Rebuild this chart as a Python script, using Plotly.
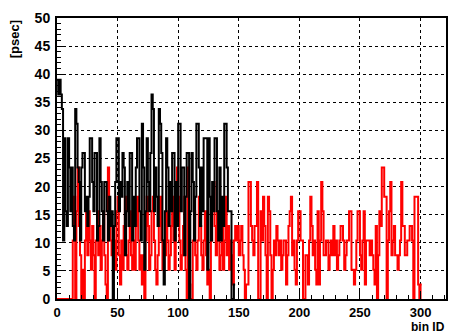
import plotly.graph_objects as go

# bin contents [psec], one value per bin (bin width = 1 bin ID, starting at 0)
black_values = [
    39, 36.4, 39, 36.4, 33.8, 10.4, 28.6, 15.6, 13, 28.6,
    23.4, 15.6, 23.4, 13, 10.4, 33.8, 31.2, 23.4, 20.8, 10.4,
    23.4, 26, 26, 15.6, 18.2, 13, 18.2, 28.6, 28.6, 20.8,
    15.6, 26, 26, 10.4, 13, 28.6, 20.8, 15.6, 10.4, 20.8,
    20.8, 15.6, 10.4, 18.2, 13, 15.6, 0, 13, 20.8, 28.6,
    28.6, 15.6, 20.8, 18.2, 26, 23.4, 7.8, 15.6, 20.8, 13,
    26, 26, 10.4, 18.2, 13, 23.4, 28.6, 28.6, 15.6, 10.4,
    31.2, 23.4, 5.2, 15.6, 28.6, 20.8, 15.6, 26, 36.4, 33.8,
    15.6, 23.4, 18.2, 13, 33.8, 31.2, 26, 10.4, 2.6, 15.6,
    28.6, 23.4, 13, 20.8, 15.6, 26, 26, 10.4, 20.8, 13,
    31.2, 31.2, 15.6, 23.4, 23.4, 7.8, 18.2, 26, 26, 0,
    15.6, 26, 20.8, 10.4, 18.2, 31.2, 31.2, 23.4, 13, 23.4,
    15.6, 28.6, 28.6, 28.6, 5.2, 28.6, 18.2, 10.4, 20.8, 15.6,
    28.6, 28.6, 15.6, 10.4, 23.4, 10.4, 18.2, 13, 31.2, 31.2,
    23.4, 15.6, 15.6, 15.6, 0, 0, 2.6,
]

red_values = [
    0, 0, 0, 0, 0, 0, 0, 0, 0, 0, 0, 0, 0,
    10.4, 18.2, 0, 15.6, 23.4, 13, 7.8, 0, 5.2, 0,
    10.4, 15.6, 7.8, 15.6, 10.4, 5.2, 13, 7.8, 0, 10.4,
    15.6, 7.8, 13, 5.2, 10.4, 15.6, 7.8, 2.6, 0, 23.4,
    15.6, 10.4, 7.8, 13, 10.4, 5.2, 15.6, 18.2, 7.8, 2.6,
    10.4, 5.2, 13, 18.2, 7.8, 5.2, 10.4, 15.6, 7.8, 5.2,
    10.4, 5.2, 13, 18.2, 10.4, 5.2, 7.8, 2.6, 7.8, 0,
    10.4, 18.2, 13, 5.2, 7.8, 15.6, 18.2, 10.4, 5.2, 2.6,
    7.8, 13, 18.2, 10.4, 5.2, 10.4, 7.8, 15.6, 10.4, 5.2,
    7.8, 13, 18.2, 10.4, 5.2, 15.6, 23.4, 18.2, 10.4, 5.2,
    7.8, 13, 18.2, 5.2, 0, 23.4, 2.6, 0, 0, 10.4,
    15.6, 7.8, 5.2, 10.4, 18.2, 13, 7.8, 5.2, 10.4, 15.6,
    7.8, 2.6, 5.2, 0, 10.4, 18.2, 20.8, 13, 7.8, 15.6,
    10.4, 5.2, 7.8, 13, 5.2, 10.4, 18.2, 7.8, 13, 5.2,
    10.4, 7.8, 2.6, 10.4,
    13, 10.4, 13, 7.8, 10.4, 13, 7.8, 5.2, 0, 2.6,
    2.6, 20.8, 20.8, 13, 10.4, 7.8, 13, 13, 20.8, 0,
    0, 15.6, 10.4, 18.2, 13, 7.8, 0, 18.2, 15.6, 7.8,
    0, 5.2, 10.4, 7.8, 13, 10.4, 7.8, 10.4, 5.2, 7.8,
    10.4, 10.4, 2.6, 7.8, 13, 15.6, 18.2, 7.8, 10.4, 5.2,
    2.6, 10.4, 15.6, 15.6, 10.4, 10.4, 0, 0, 7.8, 7.8,
    2.6, 10.4, 18.2, 13, 7.8, 10.4, 5.2, 2.6, 15.6, 2.6,
    10.4, 20.8, 15.6, 7.8, 7.8, 10.4, 10.4, 5.2, 7.8, 10.4,
    7.8, 13, 7.8, 10.4, 5.2, 7.8, 10.4, 13, 13, 10.4,
    5.2, 7.8, 10.4, 10.4, 15.6, 15.6, 5.2, 5.2, 2.6, 5.2,
    10.4, 15.6, 15.6, 7.8, 5.2, 10.4, 15.6, 2.6, 10.4, 10.4,
    10.4, 7.8, 10.4, 7.8, 5.2, 2.6, 13, 0, 7.8, 15.6,
    13, 23.4, 23.4, 18.2, 18.2, 0, 10.4, 15.6, 20.8, 7.8,
    10.4, 13, 7.8, 7.8, 5.2, 7.8, 10.4, 20.8, 13, 13,
    7.8, 7.8, 10.4, 10.4, 13, 13, 10.4, 0, 18.2, 18.2,
    18.2, 2.6, 0, 2.6,
]

x_tick_vals = [0, 50, 100, 150, 200, 250, 300]
y_tick_vals = [0, 5, 10, 15, 20, 25, 30, 35, 40, 45, 50]
x_title = "bin ID"
y_title = "[psec]"


def steps(vals):
    xs = list(range(len(vals) + 1))
    ys = list(vals) + [vals[-1]]
    return xs, ys


fig = go.Figure()
rx, ry = steps(red_values)
fig.add_trace(go.Scatter(x=rx, y=ry, mode="lines", line=dict(color="#ff0000", width=2, shape="hv"),
                         showlegend=False, hoverinfo="skip"))
bx, by = steps(black_values)
fig.add_trace(go.Scatter(x=bx, y=by, mode="lines", line=dict(color="#000000", width=2, shape="hv"),
                         showlegend=False, hoverinfo="skip"))

tick_font = dict(family="Liberation Sans, Arial, sans-serif", size=14, color="black", weight="bold")
xtick_font = dict(family="Liberation Sans, Arial, sans-serif", size=13, color="black", weight="bold")
title_font = dict(family="Liberation Sans, Arial, sans-serif", size=13, color="black", weight="bold")
xtitle_font = dict(family="Liberation Sans, Arial, sans-serif", size=12, color="black", weight="bold")

fig.update_layout(
    width=451, height=336,
    margin=dict(l=57, r=3, t=18, b=37),
    paper_bgcolor="white", plot_bgcolor="white",
    xaxis=dict(
        range=[0, 321], tickvals=x_tick_vals, ticktext=[str(v) for v in x_tick_vals],
        ticks="inside", ticklen=8, tickwidth=1, tickcolor="black",
        minor=dict(ticks="inside", ticklen=4, dtick=10, tick0=0, tickcolor="black", showgrid=False),
        showline=True, linecolor="black", linewidth=2, mirror=True,
        showgrid=True, gridcolor="black", gridwidth=1, griddash="dot",
        zeroline=False, tickfont=xtick_font, ticklabelstandoff=0,
    ),
    yaxis=dict(
        range=[0, 50], tickvals=y_tick_vals, ticktext=[str(v) for v in y_tick_vals],
        ticks="inside", ticklen=8, tickwidth=1, tickcolor="black",
        minor=dict(ticks="inside", ticklen=4, dtick=1, tick0=0, tickcolor="black", showgrid=False),
        showline=True, linecolor="black", linewidth=2, mirror=True,
        showgrid=True, gridcolor="black", gridwidth=1, griddash="dot",
        zeroline=False, tickfont=tick_font, ticklabelstandoff=2,
    ),
    annotations=[
        dict(text=x_title, xref="paper", yref="paper", x=1.0, y=-0.072, xanchor="right", yanchor="top",
             showarrow=False, font=xtitle_font, borderpad=0),
        dict(text=y_title, xref="paper", yref="paper", x=-0.11, y=1.0, xanchor="center", yanchor="top",
             textangle=-90, showarrow=False, font=title_font),
    ],
)

fig.write_html("out.html")
